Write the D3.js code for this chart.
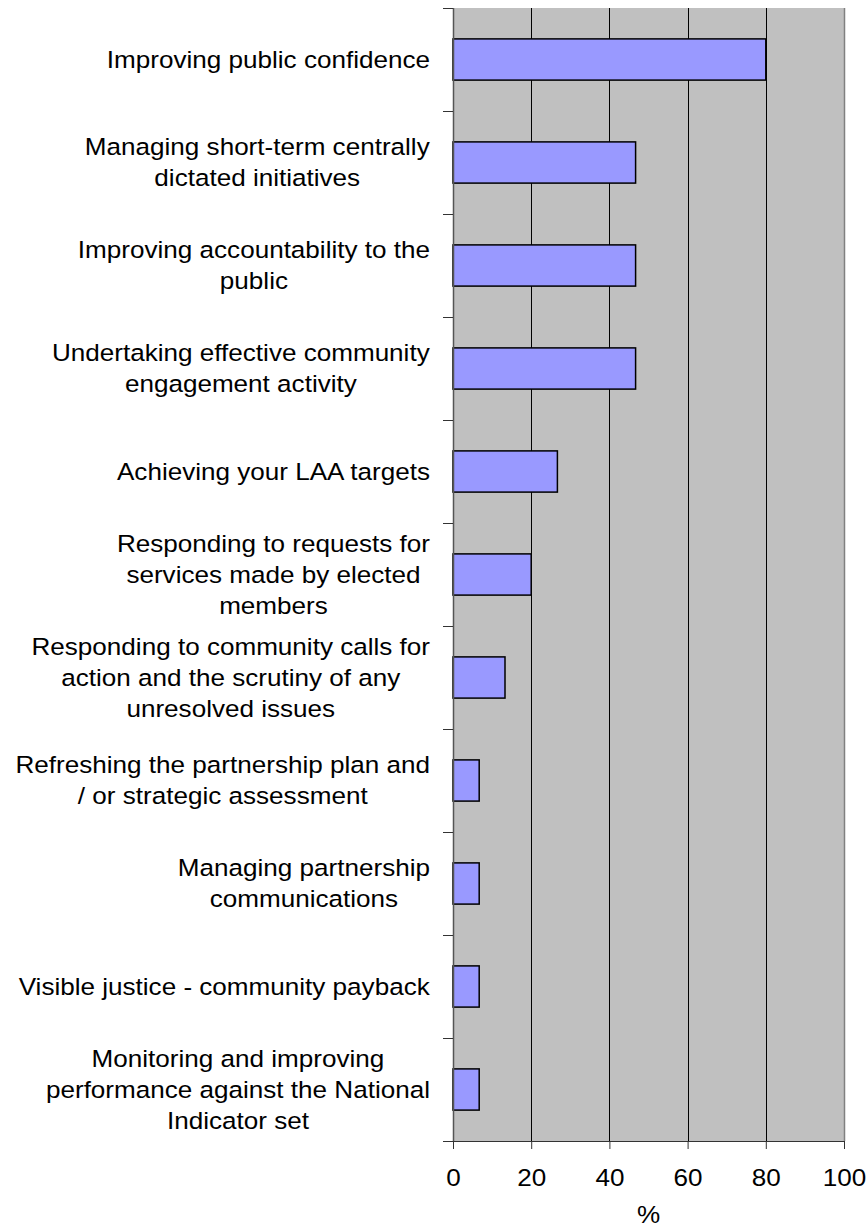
<!DOCTYPE html>
<html>
<head>
<meta charset="utf-8">
<script src="https://cdn.jsdelivr.net/npm/d3@7"></script>
<style>
  body { margin: 0; background: #fff; }
  text { font-family: 'Liberation Sans', Arial, sans-serif; fill: #000; }
</style>
</head>
<body>
<div id="chart"></div>
<script>
// category labels, split into the lines used in the chart
var categories = [
  ['Improving public confidence'],
  ['Managing short-term centrally', 'dictated initiatives'],
  ['Improving accountability to the', 'public'],
  ['Undertaking effective community', 'engagement activity'],
  ['Achieving your LAA targets'],
  ['Responding to requests for', 'services made by elected', 'members'],
  ['Responding to community calls for', 'action and the scrutiny of any', 'unresolved issues'],
  ['Refreshing the partnership plan and', '/ or strategic assessment'],
  ['Managing partnership', 'communications'],
  ['Visible justice - community payback'],
  ['Monitoring and improving', 'performance against the National', 'Indicator set']
]
var values = [80, 46.7, 46.7, 46.7, 26.7, 20, 13.3, 6.7, 6.7, 6.7, 6.7]
var xTicks = [0, 20, 40, 60, 80, 100]
var xTitle = '%'

var margin = {top: 8, right: 22, bottom: 86, left: 453}
var W = 866, H = 1227
var width = W - margin.left - margin.right
var height = H - margin.top - margin.bottom
var fs = 23.5, sx = 1.11

var svg = d3.select('#chart').append('svg').attr('width', W).attr('height', H)
var g = svg.append('g').attr('transform', `translate(${margin.left},${margin.top})`)

var x = d3.scaleLinear().domain([0, 100]).range([0, width])
var y = d3.scaleBand().domain(d3.range(categories.length)).range([0, height]).paddingInner(0.6).paddingOuter(0.3)
var yb = d3.scaleBand().domain(d3.range(categories.length)).range([0, height])

// plot background
g.append('rect').attr('width', width).attr('height', height).attr('fill', '#C0C0C0')

// gridlines
g.selectAll('.grid').data(xTicks.slice(1, -1)).enter().append('line')
  .attr('x1', d => Math.round(x(d)) + 0.5).attr('x2', d => Math.round(x(d)) + 0.5)
  .attr('y1', 0).attr('y2', height)
  .attr('stroke', '#000').attr('stroke-width', 1)

// right border
g.append('line').attr('x1', width + 0.5).attr('x2', width + 0.5).attr('y1', 0).attr('y2', height)
  .attr('stroke', '#808080').attr('stroke-width', 1.5)

// bars
g.selectAll('.bar').data(values).enter().append('rect')
  .attr('x', x(0))
  .attr('y', (d, i) => y(i))
  .attr('width', d => x(d) - x(0))
  .attr('height', y.bandwidth())
  .attr('fill', '#9999FF')
  .attr('stroke', '#000')
  .attr('stroke-width', 1.5)

// y axis: ticks between categories
var yTickPos = d3.range(categories.length + 1).map(i => i < categories.length ? yb(i) : height)
g.append('line').attr('x1', 0.5).attr('x2', 0.5).attr('y1', 0).attr('y2', height)
  .attr('stroke', '#555').attr('stroke-width', 1.5)
g.selectAll('.ytick').data(yTickPos).enter().append('line')
  .attr('x1', -10).attr('x2', 0)
  .attr('y1', d => Math.round(d) + 0.5).attr('y2', d => Math.round(d) + 0.5)
  .attr('stroke', '#333').attr('stroke-width', 1)

// x axis
var xAxis = d3.axisBottom(x).tickValues(xTicks).tickSize(8).tickPadding(20)
var xg = g.append('g').attr('transform', `translate(0,${height})`).call(xAxis)
xg.select('.domain').attr('stroke', '#333').attr('d', `M-10,0.5H${width}`)
xg.selectAll('.tick line').attr('stroke', '#333')
xg.selectAll('.tick text').attr('font-size', fs).attr('font-family', "'Liberation Sans', Arial, sans-serif")
  .attr('fill', '#000').attr('transform', `scale(${sx},1)`)

svg.append('text')
  .attr('transform', `translate(${margin.left + width / 2},1223) scale(${sx},1)`)
  .attr('text-anchor', 'middle').attr('font-size', fs)
  .text(xTitle)

// category labels: centred lines, block right-aligned at x = -23
var lineH = 31
var labels = g.selectAll('.lab').data(categories).enter().append('text')
  .attr('text-anchor', 'middle')
  .attr('font-size', fs)
  .attr('transform', (d, i) => `translate(-23,${yb(i) + yb.bandwidth() / 2}) scale(${sx},1)`)
labels.each(function(lines) {
  var t = d3.select(this)
  var n = lines.length
  lines.forEach((ln, k) => {
    t.append('tspan').attr('x', 0).attr('y', (k - (n - 1) / 2) * lineH).attr('dy', '0.35em').text(ln)
  })
})
labels.each(function() {
  var bb = this.getBBox()
  d3.select(this).selectAll('tspan').attr('x', -bb.width / 2)
})
</script>
</body>
</html>
